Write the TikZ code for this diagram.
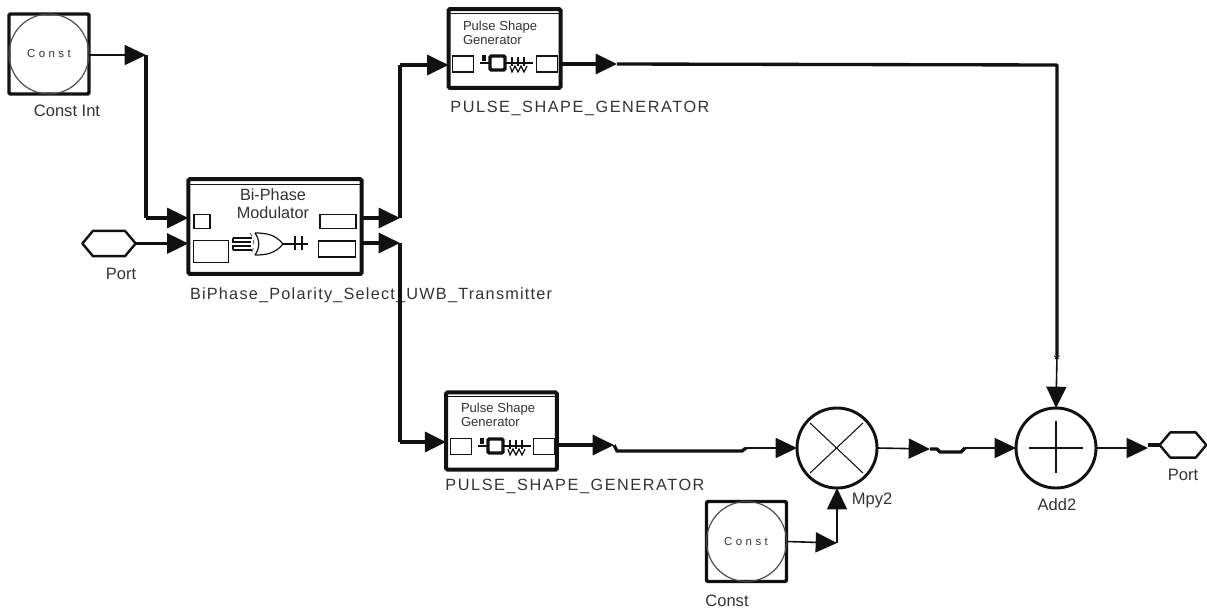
\documentclass[tikz,border=0pt]{standalone}
\usepackage{fontspec}
\setmainfont{Liberation Sans}
\usetikzlibrary{arrows.meta}
\definecolor{ink}{HTML}{111111}
\definecolor{txt}{HTML}{333333}
\tikzset{
  x=0.75pt,y=-0.75pt,
  every node/.style={inner sep=0pt,outer sep=0pt,text=txt},
  lab/.style={font=\fontsize{12.4pt}{14pt}\selectfont},
  widelab/.style={font=\fontsize{12.2pt}{14pt}\selectfont\addfontfeature{LetterSpace=#1}},
  small/.style={font=\fontsize{12.2pt}{13.5pt}\selectfont,align=center},
  tiny/.style={font=\fontsize{9.8pt}{10.5pt}\selectfont,align=left},
  spaced/.style={font=\fontsize{8.6pt}{9pt}\selectfont\addfontfeature{LetterSpace=#1}},
  blockbox/.style={draw=ink,line width=3pt,rounded corners=1pt,minimum width=#1},
  portbox/.style={draw=ink,line width=0.9pt,fill=white},
  constbox/.style={draw=ink,line width=2.6pt,rounded corners=1pt,minimum width=60pt,minimum height=60pt},
  round/.style={circle,draw=ink,line width=2.2pt,minimum size=60pt},
  inring/.style={circle,draw=ink!75,line width=0.9pt,minimum size=60pt},
  hexport/.style={minimum height=19pt},
  hexline/.style={draw=ink,line width=1.8pt,line join=round},
  thinwire/.style={draw=ink,line width=1.2pt},
  thickwire/.style={draw=ink,line width=2.5pt,line join=round},
  tip/.style={-{Triangle[length=16pt,width=15pt,fill=ink]}},
  sym/.style={draw=ink,line width=0.9pt},
  dsym/.style={draw=ink,line width=0.8pt,opacity=0.6},
}
\newcommand{\hexoutline}[1]{%
  \draw[hexline] (#1.west) -- ([xshift=8pt]#1.north west) -- ([xshift=-8pt]#1.north east)
    -- (#1.east) -- ([xshift=-8pt]#1.south east) -- ([xshift=8pt]#1.south west) -- cycle;}
\newcommand{\psgsymbol}[2]{%
  \begin{scope}[shift={(#1,#2)}]
    \draw[sym] (-15,-2) -- (-15,-8) (-13,-2) -- (-13,-8) (-18,0) -- (-9,0);
    \draw[draw=ink,line width=2.6pt,rounded corners=1pt] (-8,-7) rectangle (7,7);
    \draw[sym] (7,0) -- (14,0);
    \draw[sym] (14,-6) -- (14,3) (20,-6) -- (20,3) (26,-6) -- (26,3);
    \draw[sym] (12,3) -- (14,9) -- (17,3) -- (20,9) -- (23,3) -- (26,9) -- (29,3);
    \draw[sym] (14,0) -- (35,0);
  \end{scope}}
\begin{document}
\begin{tikzpicture}
\useasboundingbox (0,0) rectangle (1207,611);
% --- ConstInt
\node[constbox] (ci) at (49,54) {};
\node[inring] (cic) at (ci.center) {};
\node[spaced=30] (citxt) at (49,54) {Const};
\node[lab] (cilab) at (67,111) {Const Int};
% --- Modulator
\node[blockbox=130pt,minimum height=71pt] (mod) at (275,226.5) {};
\draw[ink,line width=0.7pt] (mod.west |- 0,184) -- (mod.east |- 0,184);
\node[small] (modtxt) at (273,204) {Bi-Phase\\Modulator};
\node[portbox,minimum width=12pt,minimum height=10pt] (mi1) at (202,221.5) {};
\node[portbox,minimum width=26pt,minimum height=16pt] (mi2) at (211,251.5) {};
\node[portbox,minimum width=27pt,minimum height=10pt] (mo1) at (338,221.5) {};
\node[portbox,minimum width=28pt,minimum height=12pt] (mo2) at (337,249) {};
\node[hexport,minimum width=40pt] (pin) at (109,243.5) {};
\hexoutline{pin}
\node[lab] (pinlab) at (121,274) {Port};
\node[widelab=7.5,anchor=west] (modlab) at (190,295) {BiPhase\_Polarity\_Select\_UWB\_Transmitter};
% XOR symbol
\begin{scope}[shift={(255,244)}]
  \draw[sym] (0,-11) .. controls (10,-11) and (20,-10) .. (28,0) .. controls (20,10) and (10,11) .. (0,11);
  \draw[sym] (0,-11) .. controls (5,-4) and (5,4) .. (0,11);
  \draw[dsym,dashed] (-5,-11) .. controls (0,-4) and (0,4) .. (-5,11);
  \draw[sym] (-22,-6) -- (-3,-6) (-22,6) -- (-3,6) (-22,-6) -- (-22,-2) -- (-4,-2) (-22,6) -- (-22,2) -- (-4,2);
  \draw[sym] (28,0) -- (53,0) (40,-8) -- (40,6) (47,-8) -- (47,6);
\end{scope}
% --- Upper pulse generator
\node[blockbox=84pt,minimum height=59pt] (pu) at (504.5,48.5) {};
\draw[ink,line width=0.7pt] (pu.west |- 0,13) -- (pu.east |- 0,13);
\node[tiny,anchor=west] (putxt) at (463,33) {Pulse Shape\\Generator};
\node[portbox,minimum width=16pt,minimum height=12pt] (pui) at (463,64) {};
\node[portbox,minimum width=16pt,minimum height=12pt] (puo) at (547,64) {};
\psgsymbol{498}{63}
\node[widelab=9.5] (pulab) at (580,108) {PULSE\_SHAPE\_GENERATOR};
% --- Lower pulse generator
\node[blockbox=83pt,minimum height=58pt] (pl) at (501.5,431) {};
\draw[ink,line width=0.7pt] (pl.west |- 0,396) -- (pl.east |- 0,396);
\node[tiny,anchor=west] (pltxt) at (461,415) {Pulse Shape\\Generator};
\node[portbox,minimum width=16pt,minimum height=12pt] (pli) at (461,446.5) {};
\node[portbox,minimum width=16pt,minimum height=12pt] (plo) at (544,446.5) {};
\psgsymbol{496}{446}
\node[widelab=9.5] (pllab) at (575,486) {PULSE\_SHAPE\_GENERATOR};
% --- Multiplier
\node[round] (mpy) at (837,448) {};
\draw[ink,line width=0.8pt] (810,423) -- (863,473) (810,473) -- (863,423);
\node[lab] (mpylab) at (872,500) {Mpy2};
% --- Const
\node[constbox] (co) at (746.5,541.5) {};
\node[inring] (coc) at (co.center) {};
\node[spaced=30] (cotxt) at (746,542) {Const};
\node[lab] (colab) at (727,601) {Const};
% --- Adder
\node[round] (add) at (1056,448) {};
\draw[ink,line width=0.8pt] (1056,421) -- (1056,473) (1029,448) -- (1083,448);
\node[lab] (addlab) at (1057,505) {Add2};
% --- Output port
\node[hexport,minimum width=35pt] (pout) at (1183,445) {};
\hexoutline{pout}
\node[lab] (poutlab) at (1183,475) {Port};
% --- Junction coordinates
\coordinate (j1) at (146,55);
\coordinate (j2) at (146,218);
\coordinate (j3) at (400,218);
\coordinate (j4) at (400,65);
\coordinate (j5) at (400,243);
\coordinate (j6) at (400,442);
\coordinate (j7) at (617,64);
\coordinate (j8) at (1057,65);
\coordinate (j9) at (1057,355);
\coordinate (a1) at (614,445);
\coordinate (a2) at (617,451);
\coordinate (a3) at (742,451);
\coordinate (a4) at (746,448);
\coordinate (b1) at (930,449);
\coordinate (b2) at (937,449);
\coordinate (b3) at (940,452);
\coordinate (b4) at (961,452);
\coordinate (b5) at (965,448);
\coordinate (c1) at (1148,448);
\coordinate (c2) at (1148,445);
\coordinate (d1) at (837,543);
% --- Connectors
\draw[thinwire,tip] (ci.east |- j1) -- (j1);
\draw[thickwire] (j1) -- (j2);
\draw[thickwire,tip] (j2) -- (mod.west |- j2);
\draw[thickwire,tip] (pin.east) -- (mod.west |- pin.east);
\draw[thickwire,tip] (mod.east |- j3) -- (j3);
\draw[thickwire] (j3) -- (j4);
\draw[thickwire,tip] (j4) -- (pu.west |- j4);
\draw[thickwire,tip] (mod.east |- j5) -- (j5);
\draw[thickwire] (j5) -- (j6);
\draw[thickwire,tip] (j6) -- (pl.west |- j6);
\draw[thickwire,tip] (pu.east |- j7) -- (j7);
\draw[thickwire] (j7) -- (j8) -- (j9);
\draw[thinwire,tip] (j9) -- (add.north);
\node[font=\bfseries\fontsize{11pt}{11pt}\selectfont,text=ink] (star) at (1057,359) {*};
\draw[thickwire,tip] (pl.east |- a1) -- (a1);
\draw[thickwire] (a1) -- (a2) -- (a3) -- (a4);
\draw[thinwire,tip] (a4) -- (mpy.west);
\draw[thinwire,tip] (mpy.east) -- (b1);
\draw[thickwire] (b1) -- (b2) -- (b3) -- (b4) -- (b5);
\draw[thinwire,tip] (b5) -- (add.west);
\draw[thinwire,tip] (add.east) -- (c1);
\draw[thickwire] (c2) -- (pout.west);
\draw[thinwire,tip] (co.east) -- (d1);
\draw[thinwire,tip] (d1) -- (mpy.south);
\end{tikzpicture}
\end{document}
